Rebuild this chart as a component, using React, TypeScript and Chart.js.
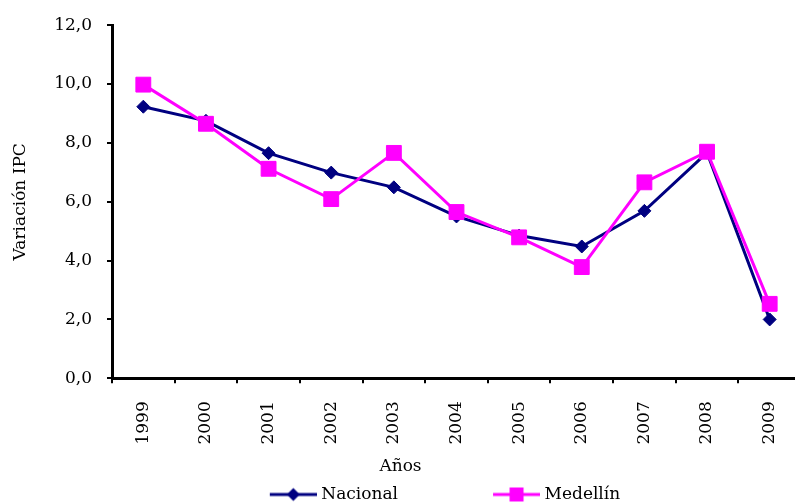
import React, { useEffect, useRef } from 'react';
import { Chart, registerables } from 'chart.js';

Chart.register(...registerables);

const YEARS = ['1999', '2000', '2001', '2002', '2003', '2004', '2005', '2006', '2007', '2008', '2009'];
const NACIONAL = [9.23, 8.75, 7.65, 6.99, 6.49, 5.5, 4.85, 4.48, 5.69, 7.67, 2.0];
const MEDELLIN = [9.98, 8.65, 7.12, 6.09, 7.66, 5.65, 4.79, 3.78, 6.66, 7.7, 2.53];
const Y_TICKS = [0, 2, 4, 6, 8, 10, 12];
const SERIES_NAMES = ['Nacional', 'Medellín'];
const SERIES_COLORS = ['#000080', '#FF00FF'];
const X_TITLE = 'Años';
const Y_TITLE = 'Variación IPC';

const FONT_FAMILY = "'DejaVu Serif', serif";
const CANVAS_W = 801;
const CANVAS_H = 504;
const LEGEND_BOX = 132;
const LEGEND_EXTRA = 4;

function makeLegendGlyph(color: string, shape: 'diamond' | 'square'): HTMLCanvasElement {
  const w = LEGEND_BOX + 2 * LEGEND_EXTRA;
  const h = 16;
  const c = document.createElement('canvas');
  c.width = w;
  c.height = h;
  const ctx = c.getContext('2d')!;
  const x1 = w - 47;
  const x2 = w;
  const cy = h / 2;
  ctx.strokeStyle = color;
  ctx.lineWidth = 3;
  ctx.beginPath();
  ctx.moveTo(x1, cy);
  ctx.lineTo(x2, cy);
  ctx.stroke();
  const cx = (x1 + x2) / 2;
  ctx.fillStyle = color;
  ctx.beginPath();
  if (shape === 'diamond') {
    const r = 6.5;
    ctx.moveTo(cx, cy - r);
    ctx.lineTo(cx + r, cy);
    ctx.lineTo(cx, cy + r);
    ctx.lineTo(cx - r, cy);
    ctx.closePath();
  } else {
    const s = 7;
    ctx.rect(cx - s, cy - s, 2 * s, 2 * s);
  }
  ctx.fill();
  return c;
}

export default function App() {
  const canvasRef = useRef<HTMLCanvasElement | null>(null);

  useEffect(() => {
    if (!canvasRef.current) return;
    const font = { family: FONT_FAMILY, size: 17, weight: 'normal' as const };
    const glyphs = [makeLegendGlyph(SERIES_COLORS[0], 'diamond'), makeLegendGlyph(SERIES_COLORS[1], 'square')];

    const chart = new Chart(canvasRef.current, {
      type: 'line',
      data: {
        labels: YEARS,
        datasets: [
          {
            label: SERIES_NAMES[0],
            data: NACIONAL,
            borderColor: SERIES_COLORS[0],
            backgroundColor: SERIES_COLORS[0],
            borderWidth: 3,
            pointStyle: 'rectRot',
            pointRadius: 6.5,
            pointBorderWidth: 1,
            pointBackgroundColor: SERIES_COLORS[0],
            pointBorderColor: SERIES_COLORS[0],
            tension: 0,
            order: 1,
          },
          {
            label: SERIES_NAMES[1],
            data: MEDELLIN,
            borderColor: SERIES_COLORS[1],
            backgroundColor: SERIES_COLORS[1],
            borderWidth: 3,
            pointStyle: 'rect',
            pointRadius: 10.5,
            pointBorderWidth: 1,
            pointBackgroundColor: SERIES_COLORS[1],
            pointBorderColor: SERIES_COLORS[1],
            tension: 0,
            order: 0,
          },
        ],
      },
      options: {
        animation: false,
        responsive: false,
        devicePixelRatio: 1,
        layout: { autoPadding: false, padding: { top: 21, left: 0, right: 0, bottom: 0 } },
        scales: {
          x: {
            type: 'category',
            offset: true,
            grid: {
              display: true,
              drawOnChartArea: false,
              drawTicks: true,
              tickLength: 5,
              color: '#000',
              lineWidth: 2,
              offset: true,
            },
            border: { display: true, color: '#000', width: 3 },
            ticks: {
              minRotation: 90,
              maxRotation: 90,
              autoSkip: false,
              padding: 18,
              color: '#000',
              font,
            },
            afterFit: (s: any) => {
              s.height = 74;
              s.paddingRight = 0;
              s.paddingLeft = 0;
            },
          },
          y: {
            min: 0,
            max: 12,
            afterBuildTicks: (s: any) => {
              s.ticks = Y_TICKS.map((v) => ({ value: v }));
            },
            ticks: {
              padding: 15,
              color: '#000',
              font,
              callback: (v: any) => Number(v).toFixed(1).replace('.', ','),
            },
            grid: {
              display: true,
              drawOnChartArea: false,
              drawTicks: true,
              tickLength: 5,
              color: '#000',
              lineWidth: 2,
            },
            border: { display: true, color: '#000', width: 3 },
            title: {
              display: true,
              text: Y_TITLE,
              color: '#000',
              font,
              padding: { top: 10, bottom: 0 },
            },
            afterFit: (s: any) => {
              s.width = 112;
            },
          },
        },
        plugins: {
          tooltip: { enabled: false },
          title: {
            display: true,
            text: X_TITLE,
            position: 'bottom',
            weight: 500,
            fullSize: true,
            align: 'center',
            color: '#000',
            font,
            padding: { top: 4, bottom: 3.3 },
          },
          legend: {
            display: true,
            position: 'bottom',
            align: 'center',
            fullSize: true,
            maxHeight: 24,
            labels: {
              usePointStyle: true,
              pointStyleWidth: LEGEND_BOX,
              boxHeight: 17,
              padding: 6,
              color: '#000',
              font,
              generateLabels: (c: any) =>
                c.data.datasets.map((ds: any, i: number) => ({
                  text: ds.label,
                  fillStyle: ds.backgroundColor,
                  strokeStyle: ds.borderColor,
                  lineWidth: 0,
                  hidden: !c.isDatasetVisible(i),
                  datasetIndex: i,
                  pointStyle: glyphs[i],
                  rotation: 0,
                  fontColor: '#000',
                })),
            },
          },
        },
      },
    });
    return () => chart.destroy();
  }, []);

  return (
    <div
      style={{
        position: 'fixed',
        left: 0,
        top: 0,
        width: 795,
        height: 504,
        overflow: 'hidden',
        background: '#fff',
      }}
    >
      <canvas
        ref={canvasRef}
        width={CANVAS_W}
        height={CANVAS_H}
        style={{ display: 'block', width: CANVAS_W, height: CANVAS_H }}
      />
    </div>
  );
}
